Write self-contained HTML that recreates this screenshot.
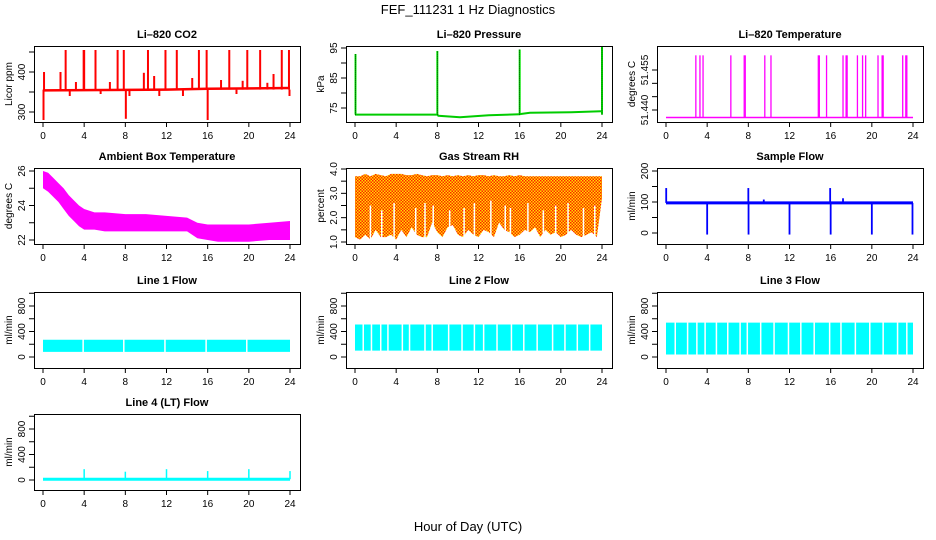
<!DOCTYPE html>
<html><head><meta charset="utf-8"><style>
html,body{margin:0;padding:0;background:#fff;}
svg{display:block;font-family:"Liberation Sans",sans-serif;}
</style></head><body>
<svg id="c" width="936" height="540" viewBox="0 0 936 540">
<defs>
<pattern id="rh" width="3" height="3" patternUnits="userSpaceOnUse">
<rect width="3" height="3" fill="#ffe000"/><rect x="0" y="0" width="1.5" height="1.5" fill="#ff2000"/><rect x="1.5" y="1.5" width="1.5" height="1.5" fill="#ff2000"/>
</pattern>
</defs>
<text x="468" y="14" font-size="13" text-anchor="middle">FEF_111231  1 Hz Diagnostics</text>
<text x="468" y="531" font-size="13" text-anchor="middle">Hour of Day (UTC)</text>
</svg>
<script>
const xTicks=[0,4,8,12,16,20,24];
// CO2
const co2BaseHours=[0,6,12,16,24];
const co2BaseVals=[354,355,356,358,360];
const co2SpikeHours=[0.05,0.1,2.2,3.95,4.0,5.1,7.25,7.85,8.05,10.2,11.9,13.0,15.15,15.9,16.0,18.1,19.85,21.1,23.2,23.9,1.7,3.2,6.5,9.8,10.8,14.5,17.3,19.4,21.8,22.4,2.6,5.6,8.4,11.3,13.6,18.8,23.95];
const co2SpikeVals=[280,400,455,455,455,455,455,455,283,455,455,455,455,455,280,455,455,455,455,455,400,375,375,398,390,385,380,378,373,395,340,345,340,340,340,345,340];
// Pressure
const presHours=[0,0.2,8,8.1,10.2,13,16,16.1,17,21,23.9];
const presVals=[72.8,72.8,72.8,72.4,71.9,72.6,72.9,73.0,73.4,73.6,73.9];
const presSpikeHours=[0.05,8.0,16.0,24.0];
const presSpikeVals=[93,94,94.5,95.5];
// Li-820 temperature
const tempBase=51.4372;
const tempSpikeHours=[2.9,3.3,3.6,6.3,7.6,7.7,9.6,10.2,14.8,14.9,15.6,17.2,17.5,17.6,18.6,19.1,19.4,20.6,21.0,21.1,23.0,23.3,23.4];
const tempSpikeVal=51.4605;
// Ambient box temperature
const ambHours=[0,0.5,1,1.5,2,2.5,3,3.5,4,5,6,8,10,12,14,15,16,17,18,20,22,24];
const ambHi=[26.0,25.9,25.6,25.3,25.0,24.6,24.3,24.0,23.8,23.6,23.6,23.5,23.5,23.4,23.3,23.0,22.9,22.9,22.9,22.9,23.0,23.1];
const ambLo=[25.0,24.8,24.5,24.2,23.8,23.4,23.1,22.8,22.6,22.6,22.5,22.5,22.5,22.5,22.5,22.1,22.0,21.9,21.9,21.9,22.0,22.0];
// Gas stream RH
const rhHours=[0,0.5,1,1.5,2,2.5,3,3.5,4,4.5,5,5.5,6,6.5,7,7.5,8,8.5,9,9.5,10,10.5,11,11.5,12,12.5,13,13.5,14,14.5,15,15.5,16,16.5,17,17.5,18,18.5,19,19.5,20,20.5,21,21.5,22,22.5,23,23.5,24];
const rhHi=[3.7,3.7,3.8,3.7,3.8,3.75,3.7,3.8,3.8,3.8,3.75,3.75,3.8,3.75,3.7,3.75,3.75,3.7,3.75,3.7,3.75,3.7,3.75,3.7,3.75,3.75,3.7,3.75,3.7,3.7,3.75,3.7,3.75,3.7,3.7,3.7,3.7,3.7,3.7,3.7,3.7,3.7,3.7,3.7,3.7,3.7,3.7,3.7,3.7];
const rhLo=[1.2,1.1,1.3,1.1,1.5,1.2,1.2,1.3,1.1,1.5,1.2,1.6,1.3,1.2,1.2,1.8,1.4,1.2,1.6,1.7,1.3,1.2,1.5,1.3,1.2,1.5,1.4,1.2,1.8,1.5,1.4,1.2,1.3,1.5,1.4,1.6,1.2,1.5,1.3,1.4,1.2,1.3,1.5,1.3,1.2,1.3,1.4,1.2,2.8];
const rhGapHours=[1.5,2.6,3.8,5.9,6.8,7.6,9.2,10.6,11.6,13.2,14.6,15.1,16.8,18.3,19.5,20.7,22.2,23.3];
const rhGapVals=[2.5,2.3,2.6,2.4,2.6,2.5,2.3,2.4,2.6,2.7,2.5,2.4,2.6,2.3,2.5,2.6,2.4,2.5];
// Sample flow
const sfBase=97;
const sfSpikeHours=[0.02,4.0,8.0,8.02,12.0,15.95,16.0,20.0,23.95,17.2,9.5];
const sfSpikeVals=[145,-5,145,-5,-5,145,-5,-5,-5,112,108];
// Line flows
const l1Lo=80, l1Hi=270;
const l1GapHours=[3.9,7.85,11.85,15.85,19.8];
const l2Lo=100, l2Hi=510;
const l2GapHours=[0.8,1.6,2.5,3.2,4.6,5.3,6.8,7.5,9.1,10.4,11.6,12.5,13.8,15.2,16.4,17.7,19.2,20.4,21.6,22.8];
const l3Lo=40, l3Hi=540;
const l3GapHours=[0.9,2.1,3.0,3.8,4.9,6.0,7.2,7.9,9.2,10.5,11.9,13.1,14.4,15.9,17.0,18.4,19.8,21.1,22.5,23.4];
const l4Base=12;
const l4SpikeHours=[4.0,8.0,12.0,16.0,20.0,24.0];
const l4SpikeVals=[170,130,170,140,170,140];

const NS="http://www.w3.org/2000/svg";
const svg=document.getElementById('c');
function el(t,a,parent){const e=document.createElementNS(NS,t);for(const k in a)e.setAttribute(k,a[k]);(parent||svg).appendChild(e);return e;}
const colL=[34,346,657], rowT=[46,168,292,414], W=266, H=76;

function panel(name,col,row,title,ytitle,ref,yticks,ylabels){
  const L=colL[col],T=rowT[row];
  const g=el('g',{});
  
  
  const x=h=>L+9+h*(247/24);
  const y=v=>T+ref[1]+(v-ref[0])*(ref[3]-ref[1])/(ref[2]-ref[0]);
  const clip=el('clipPath',{id:'cl'+name},g);
  el('rect',{x:L,y:T,width:W,height:H},clip);
  const plot=el('g',{'clip-path':'url(#cl'+name+')'},g);
  
  
  const t=el('text',{x:L+W/2,y:T-8,'font-size':11,'font-weight':'bold','text-anchor':'middle'},g);t.textContent=title;
  
  const frame=el('rect',{x:L+0.5,y:T+0.5,width:W,height:H,fill:'none',stroke:'#000','stroke-width':1},g);
  
  const xa=el('g',{},g);
  
  xTicks.forEach(v=>{el('line',{x1:x(v),x2:x(v),y1:T+H,y2:T+H+5,stroke:'#000'},xa);
    const l=el('text',{x:x(v),y:T+H+17,'font-size':10,'text-anchor':'middle'},xa);l.textContent=v;});
  const ya=el('g',{},g);
  
  yticks.forEach(v=>{el('line',{x1:L-5,x2:L,y1:y(v),y2:y(v),stroke:'#000'},ya);});
  ylabels.forEach(v=>{const l=el('text',{x:0,y:0,'font-size':10,'text-anchor':'middle',transform:`translate(${L-9},${y(v[0])}) rotate(-90)`},ya);l.textContent=v[1];});
  const yt=el('text',{x:0,y:0,'font-size':10,'text-anchor':'middle',transform:`translate(${L-22},${T+H/2}) rotate(-90)`},g);yt.textContent=ytitle;
  
  return {x,y,plot,T,L};
}
function poly(p,hs,vs,c,w){el('polyline',{points:hs.map((h,i)=>p.x(h)+','+p.y(vs[i])).join(' '),fill:'none',stroke:c,'stroke-width':w},p.plot);}
function vline(p,h,v0,v1,c,w,dash){const e=el('line',{x1:p.x(h),x2:p.x(h),y1:p.y(v0),y2:p.y(v1),stroke:c,'stroke-width':w},p.plot);if(dash)e.setAttribute('stroke-dasharray',dash);}
function band(p,hs,lo,hi,fill){const pts=hs.map((h,i)=>p.x(h)+','+p.y(hi[i])).concat(hs.slice().reverse().map((h,j)=>p.x(h)+','+p.y(lo[hs.length-1-j])));el('polygon',{points:pts.join(' '),fill:fill},p.plot);}

// CO2
let p=panel('co2',0,0,'Li\u2013820 CO2','Licor ppm',[300,66,400,26],[300,350,400,450],[[300,'300'],[400,'400']]);
poly(p,co2BaseHours,co2BaseVals,'#f00',2.5);
co2SpikeHours.forEach((h,i)=>vline(p,h,co2BaseVals[0]+2,co2SpikeVals[i],'#f00',2));
// Pressure
p=panel('pressure',1,0,'Li\u2013820 Pressure','kPa',[95,2,75,62],[75,80,85,90,95],[[75,'75'],[85,'85'],[95,'95']]);
poly(p,presHours,presVals,'#0c0',2);
presSpikeHours.forEach((h,i)=>{vline(p,h,presVals[0],presSpikeVals[i],'#0e0',2);vline(p,h,presVals[0],presSpikeVals[i],'#000',0.8,'1,1');});
// Li temp
p=panel('li-temp',2,0,'Li\u2013820 Temperature','degrees C',[51.44,64,51.455,24],[51.44,51.445,51.45,51.455],[[51.44,'51.440'],[51.455,'51.455']]);
poly(p,[0,24],[tempBase,tempBase],'#f0f',1.5);
tempSpikeHours.forEach(h=>vline(p,h,tempBase,tempSpikeVal,'#f0f',1.3));
// Ambient
p=panel('ambient',0,1,'Ambient Box Temperature','degrees C',[26,3,22,72],[22,23,24,25,26],[[22,'22'],[24,'24'],[26,'26']]);
band(p,ambHours,ambLo,ambHi,'#f0f');
// RH
p=panel('rh',1,1,'Gas Stream RH','percent',[4,1,1,74],[1,1.5,2,2.5,3,3.5,4],[[1,'1.0'],[2,'2.0'],[3,'3.0'],[4,'4.0']]);
band(p,rhHours,rhLo,rhHi,'url(#rh)');
rhGapHours.forEach((h,i)=>vline(p,h,0.8,rhGapVals[i],'#fff',1.5));
// Sample flow
p=panel('sample-flow',2,1,'Sample Flow','ml/min',[200,3,0,65],[0,50,100,150,200],[[0,'0'],[100,'100'],[200,'200']]);
poly(p,[0,24],[sfBase,sfBase],'#00f',3);
sfSpikeHours.forEach((h,i)=>vline(p,h,sfBase,sfSpikeVals[i],'#00f',1.8));
// Flows
const fT=[0,200,400,600,800,1000], fL=[[0,'0'],[400,'400'],[800,'800']];
function flow(name,col,row,title,lo,hi,gaps){
  const q=panel(name,col,row,title,'ml/min',[0,65,800,14],fT,fL);
  band(q,[0,24],[lo,lo],[hi,hi],'#0ff');
  gaps.forEach(h=>vline(q,h,lo-10,hi+10,'#fff',1.5));
}
flow('line1-flow',0,2,'Line 1 Flow',l1Lo,l1Hi,l1GapHours);
flow('line2-flow',1,2,'Line 2 Flow',l2Lo,l2Hi,l2GapHours);
flow('line3-flow',2,2,'Line 3 Flow',l3Lo,l3Hi,l3GapHours);
p=panel('line4-flow',0,3,'Line 4 (LT) Flow','ml/min',[0,66,800,15],fT,fL);
poly(p,[0,24],[l4Base,l4Base],'#0ff',3);
l4SpikeHours.forEach((h,i)=>vline(p,h,l4Base,l4SpikeVals[i],'#0ff',1.5));
</script>
</body></html>
